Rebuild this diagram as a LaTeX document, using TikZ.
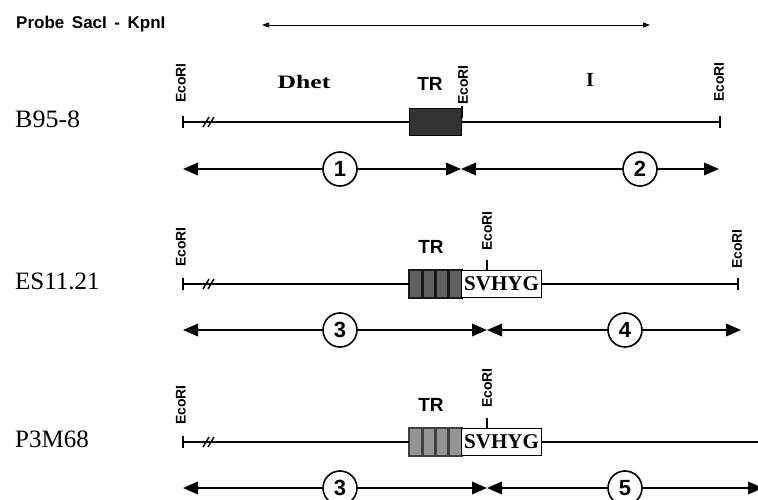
\documentclass[tikz,border=0pt]{standalone}
\usepackage{fontspec}
\usepackage{graphicx}
\setmainfont{Liberation Serif}
\setsansfont{Liberation Sans}
\newfontfamily\probefont[WordSpace=1.6]{Liberation Sans}
\usetikzlibrary{arrows.meta,calc}

\begin{document}
\begin{tikzpicture}[x=1pt,y=-1pt,
  dna/.style={line width=1.9pt},
  endtick/.style={line width=1.9pt},
  breakmark/.style={line width=1.4pt},
  ecolabel/.style={rotate=90, anchor=west, inner sep=0pt,
    font=\sffamily\bfseries\fontsize{14}{14}\selectfont},
  span/.style={line width=1.9pt,
    {Triangle[length=15pt,width=12.5pt]}-{Triangle[length=15pt,width=12.5pt]}},
  probearrow/.style={line width=0.9pt,
    {Triangle[length=7pt,width=5pt]}-{Triangle[length=7pt,width=5pt]}},
  num/.style={circle, draw, line width=1.6pt, fill=white, minimum size=34pt,
    inner sep=0pt, font=\sffamily\bfseries\fontsize{22}{22}\selectfont},
  strain/.style={anchor=base west, inner sep=0pt,
    font=\fontsize{25}{25}\selectfont},
  trbox/.style={draw, line width=1pt, minimum width=52pt, minimum height=27pt,
    inner sep=0pt, anchor=north west},
  svbox/.style={draw, line width=1pt, fill=white, minimum width=80pt,
    minimum height=27pt, inner sep=0pt, anchor=north west,
    font=\bfseries\fontsize{21}{21}\selectfont},
  trlabel/.style={inner sep=0pt, font=\sffamily\bfseries\fontsize{19}{19}\selectfont},
  divider/.style={line width=2.6pt},
]
\useasboundingbox (0,0) rectangle (758,500);

% ---------- probe ----------
\node[anchor=base west, inner sep=0pt, font=\probefont\bfseries\fontsize{17}{17}\selectfont]
  (probe) at (16,29) {Probe SacI - KpnI};
\coordinate (pl) at (262,25);
\coordinate (pr) at (650,25);
\draw[probearrow] (pl) -- (pr);

% ---------- B95-8 ----------
\node[strain] (s1) at (15,128) {\scalebox{1.04}[1]{B95-8}};
\coordinate (l1) at (183,122);
\coordinate (r1) at (720,122);
\node[trbox, fill=black!80] (tr1) at (409,108) {};
\draw[dna] (l1) -- (tr1.west);
\draw[dna] (tr1.east) -- (r1);
\draw[endtick] (l1) ++(0,-6) -- ++(0,12);
\draw[endtick] (r1) ++(0,-6) -- ++(0,12);
\draw[breakmark] (203,127) -- (209,117) (208,127) -- (214,117);
\coordinate (e1) at (462,106);
\draw[line width=1.6pt] (e1) -- ++(0,12);
\node[ecolabel] (eco1a) at (181,103) {EcoRI};
\node[ecolabel] (eco1b) at (463,105) {EcoRI};
\node[ecolabel] (eco1c) at (719,102) {EcoRI};
\node[inner sep=0pt, font=\bfseries\fontsize{19}{19}\selectfont] (dhet) at (304,82)
  {\scalebox{1.35}[1]{Dhet}};
\node[trlabel] (trl1) at (430,84) {TR};
\node[inner sep=0pt, font=\bfseries\fontsize{20}{20}\selectfont] (ilab) at (590,80) {I};

\coordinate (a1l) at (183,169);
\coordinate (a1m) at (461,169);
\coordinate (a1r) at (719,169);
\draw[span] (a1l) -- (a1m);
\draw[span] (a1m) -- (a1r);
\node[num] (n1) at (340,169) {1};
\node[num] (n2) at (640,169) {2};

% ---------- ES11.21 ----------
\node[strain] (s2) at (15,289) {ES11.21};
\coordinate (l2) at (183,284);
\coordinate (r2) at (738,284);
\node[trbox, fill=black!62] (tr2) at (409,270) {};
\foreach \f in {0.25,0.5,0.75}
  \draw[divider, black!90] ($(tr2.north west)!\f!(tr2.north east)$) --
                           ($(tr2.south west)!\f!(tr2.south east)$);
\draw[line width=2pt, black!90] (tr2.north west) rectangle (tr2.south east);
\node[svbox] (sv2) at (461,270) {SVHYG};
\draw[dna] (l2) -- (tr2.west);
\draw[dna] (sv2.east) -- (r2);
\draw[endtick] (l2) ++(0,-6) -- ++(0,12);
\draw[endtick] (r2) ++(0,-6) -- ++(0,12);
\draw[breakmark] (203,289) -- (209,279) (208,289) -- (214,279);
\coordinate (e2) at (487,270);
\draw[line width=1.6pt] (e2) -- ++(0,-10);
\node[ecolabel] (eco2a) at (181,267) {EcoRI};
\node[ecolabel] (eco2b) at (487,251) {EcoRI};
\node[ecolabel] (eco2c) at (737,269) {EcoRI};
\node[trlabel] (trl2) at (431,247) {TR};

\coordinate (a2l) at (183,330);
\coordinate (a2m) at (487,330);
\coordinate (a2r) at (741,330);
\draw[span] (a2l) -- (a2m);
\draw[span] (a2m) -- (a2r);
\node[num] (n3) at (340,330) {3};
\node[num] (n4) at (625,330) {4};

% ---------- P3M68 ----------
\node[strain] (s3) at (15,447) {P3M68};
\coordinate (l3) at (183,442);
\coordinate (r3) at (770,442);
\node[trbox, fill=black!42] (tr3) at (409,428) {};
\foreach \f in {0.25,0.5,0.75}
  \draw[divider, black!75] ($(tr3.north west)!\f!(tr3.north east)$) --
                           ($(tr3.south west)!\f!(tr3.south east)$);
\draw[line width=2pt, black!75] (tr3.north west) rectangle (tr3.south east);
\node[svbox] (sv3) at (461,428) {SVHYG};
\draw[dna] (l3) -- (tr3.west);
\draw[dna] (sv3.east) -- (r3);
\draw[endtick] (l3) ++(0,-6) -- ++(0,12);
\draw[breakmark] (203,447) -- (209,437) (208,447) -- (214,437);
\coordinate (e3) at (487,428);
\draw[line width=1.6pt] (e3) -- ++(0,-10);
\node[ecolabel] (eco3a) at (181,425) {EcoRI};
\node[ecolabel] (eco3b) at (487,408) {EcoRI};
\node[trlabel] (trl3) at (431,405) {TR};

\coordinate (a3l) at (183,488);
\coordinate (a3m) at (487,488);
\coordinate (a3r) at (763,488);
\draw[span] (a3l) -- (a3m);
\draw[span] (a3m) -- (a3r);
\node[num] (n5) at (340,488) {3};
\node[num] (n6) at (625,488) {5};
\end{tikzpicture}
\end{document}
